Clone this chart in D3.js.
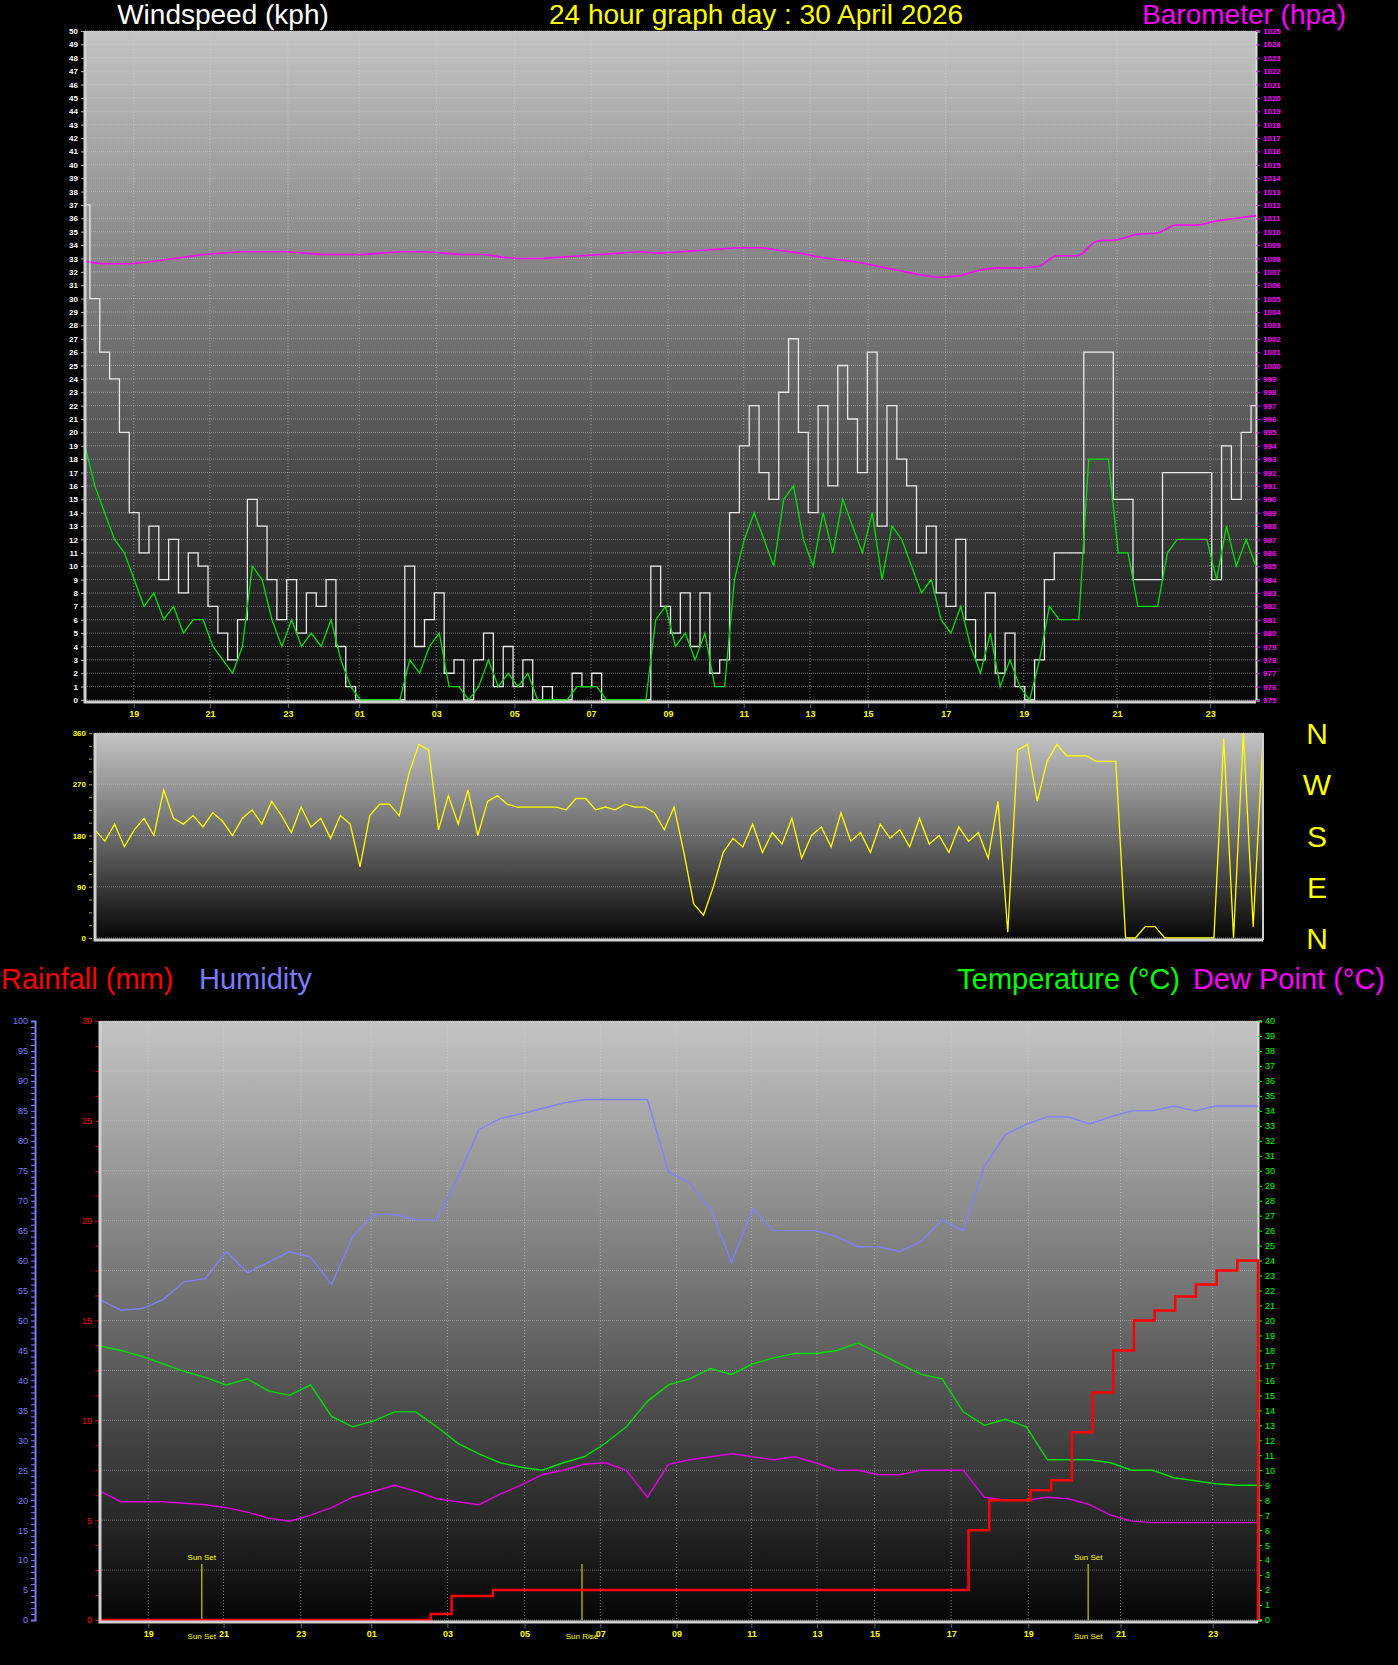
<!DOCTYPE html>
<html><head><meta charset="utf-8">
<script src="https://cdn.jsdelivr.net/npm/d3@7/dist/d3.min.js"></script>
<style>body{margin:0;background:#000}svg{display:block}</style></head>
<body><svg id="c" width="1398" height="1665"></svg>
<script>
// ---- data ----
const hourTicks = [
 {label:"19",t:10},{label:"21",t:25.6},{label:"23",t:41.6},{label:"01",t:56.2},{label:"03",t:72},
 {label:"05",t:88},{label:"07",t:103.7},{label:"09",t:119.5},{label:"11",t:135},{label:"13",t:148.6},
 {label:"15",t:160.5},{label:"17",t:176.4},{label:"19",t:192.4},{label:"21",t:211.5},{label:"23",t:230.6}];
const sunEvents = [{label:"Sun Set",t:21.1},{label:"Sun Rise",t:99.9},{label:"Sun Set",t:204.8}];
const windGust = [37,30,26,24,20, 14,11,13,9,12,8,11,10, 7,5,3,6, 15,13, 9,6,9,5,8,7,9,4,
 1,0,0,0,0,0, 10,4,6,8,2,3,0,3, 5,1,4,1,3,0,1,0,0, 2,1,2,0, 0,0,0,0, 10,7,5,8,4,8,2,3,
 14,19,22,17,15,23,27,20,14,22,16,25,21,17,26,13,22,18, 16,11,13,8,7,12, 6,3,8,2,5,1,0,3,
 9,11,11,11, 26,26,26, 15,15,9, 9,9, 17,17,17,17,17, 9,19,15,20,22];
const windAvg = [19,16,14,12,11, 9,7,8,6,7,5,6,6, 4,3,2,4, 10,9, 6,4,6,4,5,4,6,3,
 1,0,0,0,0,0, 3,2,4,5,1,1,0,1, 3,1,2,1,2,0,0,0,0, 1,1,1,0, 0,0,0,0, 6,7,4,5,3,5,1,1,
 9,12,14,12,10,15,16,12,10,14,11,15,13,11,14,9,13,12, 10,8,9,6,5,7, 4,2,5,1,3,1,0,3,
 7,6,6,6, 18,18,18, 11,11,7, 7,7, 11,12,12,12,12, 9,13,10,12,10];
const baro = [1007.8,1007.6,1007.6,1007.7,1007.9,1008.1,1008.3,1008.4,1008.5,1008.5,1008.5,1008.4,
 1008.3,1008.3,1008.3,1008.4,1008.5,1008.5,1008.4,1008.3,1008.3,1008.1,1008.0,1008.0,1008.1,1008.2,
 1008.3,1008.4,1008.5,1008.4,1008.5,1008.6,1008.7,1008.8,1008.8,1008.6,1008.4,1008.1,1007.9,1007.7,
 1007.4,1007.1,1006.8,1006.6,1006.7,1007.1,1007.3,1007.3,1007.4,1008.2,1008.2,1009.3,1009.4,1009.8,
 1009.9,1010.5,1010.5,1010.8,1011.0,1011.2];
const windDir = [190,170,200,160,190,210,180, 260,
 210,200,215,195,220,205,180,210,225,200,240,215,185,230,195,210,175,215,200,
 125, 215,235,235,215, 290,340, 330, 190, 250,200,260,180,240,250,
 235,230,230,230,230,230,225, 245,245, 225,230,225,235,230,230,220,
 190,230,150,60, 40,90,150,
 175,160,200,150,185,165,210,140,180,195,160,220,170,185,150,200,175,190,160,210,165,180,150,195,170,185,140,240,10,
 330,340,240,310,340,320, 320,320,310,310,310, 0,0,20,20,0, 0,0,0,0,0, 350,0,360,20,350];
const humidity = [53.5,51.7,52,53.5,56.5,57,61.5,58,59.7,61.5,60.6,56,64,67.7,67.7,66.8,66.8,73.9,81.9,
 83.7,84.5,85.4,86.3,86.9,86.9,86.9,86.9,74.8,73,68.6,59.7,68.6,65,65,65,64,62.3,62.3,61.5,63.2,66.8,65,
 75.7,81,82.8,84,84,82.8,84,85,85,85.8,85,85.8,85.8,85.8];
const temperature = [18.3,18,17.6,17.1,16.6,16.2,15.7,16.1,15.3,15,15.7,13.6,12.9,13.3,13.9,13.9,12.9,11.8,
 11.1,10.5,10.2,10,10.5,10.9,11.8,12.9,14.6,15.7,16.1,16.8,16.4,17.1,17.5,17.8,17.8,18,18.5,17.8,17.1,16.4,
 16.1,13.9,13,13.4,12.9,10.7,10.7,10.7,10.5,10,10,9.5,9.3,9.1,9,9];
const dewPoint = [8.6,7.9,7.9,7.9,7.8,7.7,7.5,7.2,6.8,6.6,7,7.5,8.2,8.6,9,8.6,8.1,7.9,7.7,8.4,9,9.7,10,10.4,
 10.5,10,8.2,10.4,10.7,10.9,11.1,10.9,10.7,10.9,10.5,10,10,9.7,9.7,10,10,10,8.2,8,8,8.2,8.1,7.7,7,6.6,6.5,6.5,6.5,6.5,6.5,6.5];
const rainfall = [0,0,0,0,0,0,0,0,0,0,0,0,0,0,0,0,0.3,1.2,1.2,1.5,1.5,1.5,1.5,1.5,1.5,1.5,1.5,1.5,1.5,1.5,
 1.5,1.5,1.5,1.5,1.5,1.5,1.5,1.5,1.5,1.5,1.5,1.5,4.5,6,6,6.5,7,9.4,11.4,13.5,15,15.5,16.2,16.8,17.5,18,0];
const dirLabels = ["N","W","S","E","N"];

// ---- drawing ----
const svg = d3.select("#c");
const defs = svg.append("defs");
const g1 = defs.append("linearGradient").attr("id","bg").attr("x1",0).attr("x2",0).attr("y1",0).attr("y2",1);
g1.append("stop").attr("offset","0%").attr("stop-color","#c4c4c4");
g1.append("stop").attr("offset","50%").attr("stop-color","#6a6a6a");
g1.append("stop").attr("offset","100%").attr("stop-color","#050505");
const F = "Liberation Sans, Arial, sans-serif";
const txt = (x,y,s,c,size,anchor) => svg.append("text").attr("x",x).attr("y",y).text(s)
  .attr("fill",c).attr("font-size",size).attr("font-family",F).attr("text-anchor",anchor||"start");

txt(223,24,"Windspeed (kph)","#fff",28,"middle");
txt(756,24,"24 hour graph day : 30 April 2026","#ffff00",28,"middle");
txt(1346,24,"Barometer (hpa)","#ff00ff",28,"end");
txt(1,989,"Rainfall (mm)","#ff0000",29);
txt(199,989,"Humidity","#7b7bff",29);
txt(1180,989,"Temperature (°C)","#00ff00",29,"end");
txt(1385,989,"Dew Point (°C)","#ff00ff",29,"end");

function panel(L,T,R,B){
  svg.append("rect").attr("x",L).attr("y",T).attr("width",R-L).attr("height",B-T).attr("fill","url(#bg)");
  return d3.scaleLinear().domain([0,240]).range([L,R]);
}
function vgrid(x,T,B){
  svg.append("g").selectAll("line").data(hourTicks).join("line")
    .attr("x1",d=>x(d.t)).attr("x2",d=>x(d.t)).attr("y1",T).attr("y2",B)
    .attr("stroke","#d8d8d8").attr("stroke-opacity",0.5).attr("stroke-dasharray","1,2");
}
function hgrid(y,vals,L,R){
  svg.append("g").selectAll("line").data(vals).join("line")
    .attr("x1",L).attr("x2",R).attr("y1",d=>y(d)).attr("y2",d=>y(d))
    .attr("stroke","#d8d8d8").attr("stroke-opacity",0.45).attr("stroke-dasharray","1,1");
}
function frame(L,T,R,B){
  svg.append("path").attr("d",`M${L},${T}V${B}H${R}`).attr("fill","none").attr("stroke","#d0d0d0").attr("stroke-width",3);
}
function xaxis(x,yPos){
  const ax = d3.axisBottom(x).tickValues(hourTicks.map(d=>d.t)).tickFormat((d,i)=>hourTicks[i].label).tickSize(4);
  const g = svg.append("g").attr("transform",`translate(0,${yPos})`).call(ax);
  g.select(".domain").remove();
  g.selectAll("line").attr("stroke","#666");
  g.selectAll("text").attr("fill","#ffff00").attr("font-size",9).attr("font-family",F).attr("font-weight","bold");
}
const series = (arr) => arr.map((v,i)=>[i*240/(arr.length-1),v]);

// Panel 1: wind speed + barometer
{
  const L=85,T=31,R=1256,B=702;
  const x = panel(L,T,R,B);
  const y = d3.scaleLinear().domain([0,50]).range([B-2,T]);
  const yb = d3.scaleLinear().domain([975,1025]).range([B-2,T]);
  hgrid(y,d3.range(0,51,1),L,R); vgrid(x,T,B);
  const la = svg.append("g").attr("transform",`translate(${L},0)`).call(d3.axisLeft(y).ticks(50).tickSize(4).tickFormat(d3.format("d")));
  la.select(".domain").remove();
  la.selectAll("line").attr("stroke","#aaa");
  la.selectAll("text").attr("fill","#fff").attr("font-size",8).attr("font-family",F).attr("font-weight","bold");
  const ra = svg.append("g").attr("transform",`translate(${R},0)`).call(d3.axisRight(yb).ticks(50).tickSize(4).tickFormat(d3.format("d")));
  ra.select(".domain").attr("stroke","#e0e0e0").attr("stroke-width",2);
  ra.selectAll("line").attr("stroke","#ff00ff");
  ra.selectAll("text").attr("fill","#ff00ff").attr("font-size",8).attr("font-family",F).attr("font-weight","bold");
  svg.append("path").datum(series(baro)).attr("fill","none").attr("stroke","#ff00ff").attr("stroke-width",1.6)
    .attr("d",d3.line().x(d=>x(d[0])).y(d=>yb(d[1])).curve(d3.curveMonotoneX));
  svg.append("path").datum(series(windGust)).attr("fill","none").attr("stroke","#e8e8e8").attr("stroke-width",1.3)
    .attr("d",d3.line().x(d=>x(d[0])).y(d=>y(d[1])).curve(d3.curveStep));
  svg.append("path").datum(series(windAvg)).attr("fill","none").attr("stroke","#00e000").attr("stroke-width",1.3)
    .attr("d",d3.line().x(d=>x(d[0])).y(d=>y(d[1])));
  frame(L,T,R,B);
  xaxis(x,B+2);
}
// Panel 2: wind direction
{
  const L=95,T=733,R=1263,B=940;
  const x = panel(L,T,R,B);
  const y = d3.scaleLinear().domain([0,360]).range([B-2,T]);
  hgrid(y,[0,90,180,270,360],L,R);
  const la = svg.append("g").attr("transform",`translate(${L-3},0)`).call(d3.axisLeft(y).tickValues(d3.range(0,361,22.5)).tickSize(3).tickFormat(d=>d%90===0?d:""));
  la.select(".domain").remove();
  la.selectAll("line").attr("stroke","#aaaa00");
  la.selectAll("text").attr("fill","#ffff00").attr("font-size",8).attr("font-family",F).attr("font-weight","bold");
  svg.append("path").datum(series(windDir)).attr("fill","none").attr("stroke","#ffff00").attr("stroke-width",1.3)
    .attr("d",d3.line().x(d=>x(d[0])).y(d=>y(d[1])));
  frame(L,T,R,B);
  svg.append("line").attr("x1",R).attr("x2",R).attr("y1",T).attr("y2",B).attr("stroke","#d0d0d0").attr("stroke-width",2);
  const dy = d3.scaleLinear().domain([4,0]).range([B-2,T]);
  svg.append("g").selectAll("text").data(dirLabels).join("text").attr("x",1317).attr("y",(d,i)=>dy(i)+11)
    .text(d=>d).attr("fill","#ffff00").attr("font-size",30).attr("font-family",F).attr("text-anchor","middle");
}
// Panel 3
{
  const L=100,T=1021,R=1258,B=1622;
  const x = panel(L,T,R,B);
  const yr = d3.scaleLinear().domain([0,30]).range([B-2,T]);
  const yh = d3.scaleLinear().domain([0,100]).range([B-2,T]);
  const yt = d3.scaleLinear().domain([0,40]).range([B-2,T]);
  hgrid(yr,d3.range(0,31,2.5),L,R); vgrid(x,T,B);
  const ha = svg.append("g").attr("transform",`translate(35,0)`).call(d3.axisLeft(yh).ticks(100).tickSize(4).tickFormat(d=>d%5===0?d:""));
  ha.select(".domain").attr("stroke","#7b7bff").attr("stroke-width",2);
  ha.selectAll("line").attr("stroke","#7b7bff");
  ha.selectAll("text").attr("fill","#7b7bff").attr("font-size",9).attr("font-family",F);
  const ra = svg.append("g").attr("transform",`translate(${L-1},0)`).call(d3.axisLeft(yr).tickValues(d3.range(0,31,1.25)).tickSize(4).tickFormat(d=>d%5===0?d:""));
  ra.select(".domain").remove();
  ra.selectAll("line").attr("stroke","#c00000");
  ra.selectAll("text").attr("fill","#ff0000").attr("font-size",9).attr("font-family",F);
  const ta = svg.append("g").attr("transform",`translate(${R},0)`).call(d3.axisRight(yt).ticks(40).tickSize(4).tickFormat(d3.format("d")));
  ta.select(".domain").attr("stroke","#e0e0e0").attr("stroke-width",2);
  ta.selectAll("line").attr("stroke","#00ff00");
  ta.selectAll("text").attr("fill","#00ff00").attr("font-size",9).attr("font-family",F);
  const sg = svg.append("g");
  sg.selectAll("line").data(sunEvents).join("line").attr("x1",d=>x(d.t)).attr("x2",d=>x(d.t))
    .attr("y1",yr(0)).attr("y2",yr(2.8)).attr("stroke","#cccc00").attr("stroke-width",1.2);
  sg.selectAll("text.top").data(sunEvents.filter(d=>d.label==="Sun Set")).join("text").attr("class","top")
    .attr("x",d=>x(d.t)).attr("y",yr(2.8)-4).text(d=>d.label).attr("fill","#ffff00").attr("font-size",8)
    .attr("font-family",F).attr("text-anchor","middle");
  sg.selectAll("text.bot").data(sunEvents).join("text").attr("class","bot")
    .attr("x",d=>x(d.t)).attr("y",B+17).text(d=>d.label).attr("fill","#ffff00").attr("font-size",8)
    .attr("font-family",F).attr("text-anchor","middle");
  const ln = (arr,sc,col,w,curve) => svg.append("path").datum(series(arr)).attr("fill","none").attr("stroke",col)
    .attr("stroke-width",w).attr("d",d3.line().x(d=>x(d[0])).y(d=>sc(d[1])).curve(curve||d3.curveLinear));
  ln(humidity,yh,"#8080ff",1.4);
  ln(temperature,yt,"#00e000",1.4);
  ln(dewPoint,yt,"#e000e0",1.4);
  ln(rainfall,yr,"#ff0000",2.5,d3.curveStepAfter);
  frame(L,T,R,B);
  xaxis(x,B+2);
}
</script></body></html>
